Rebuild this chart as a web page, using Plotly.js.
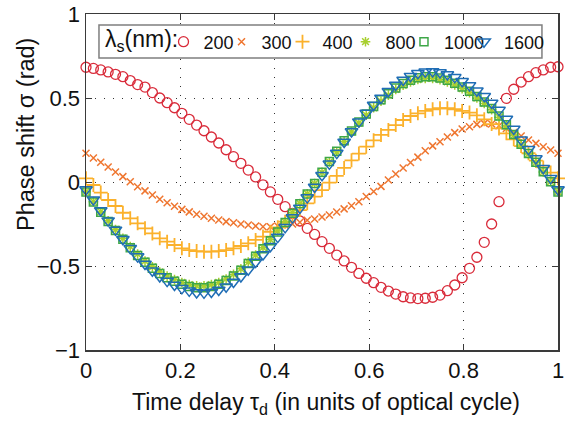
<!DOCTYPE html>
<html>
<head>
<meta charset="utf-8">
<script src="https://cdn.plot.ly/plotly-3.0.1.min.js"></script>
<style>html,body{margin:0;padding:0;background:#fff;}#chart{width:566px;height:422px;}</style>
</head>
<body>
<div id="chart"></div>
<script>
// Time delay grid: 65 samples across one optical cycle
var tau = [];
for (var k = 0; k <= 64; k++) tau.push(k / 64);

var seriesNames = ['200', '300', '400', '800', '1000', '1600'];

var phase200 = [0.683,0.676,0.667,0.655,0.641,0.627,0.604,0.580,0.565,0.532,0.500,0.472,0.442,0.409,0.373,0.339,
  0.305,0.268,0.232,0.192,0.151,0.111,0.071,0.030,-0.017,-0.059,-0.103,-0.147,-0.187,-0.232,-0.276,-0.312,
  -0.355,-0.395,-0.435,-0.470,-0.508,-0.544,-0.573,-0.599,-0.627,-0.649,-0.667,-0.683,-0.690,-0.694,-0.692,-0.686,
  -0.673,-0.647,-0.613,-0.570,-0.514,-0.448,-0.359,-0.250,-0.117,0.498,0.552,0.595,0.627,0.651,0.667,0.683,0.686];

var phase300 = [0.171,0.143,0.117,0.089,0.060,0.032,0.002,-0.028,-0.053,-0.077,-0.103,-0.124,-0.144,-0.163,-0.178,-0.192,
  -0.204,-0.216,-0.226,-0.236,-0.243,-0.250,-0.256,-0.262,-0.266,-0.266,-0.262,-0.257,-0.250,-0.240,-0.228,-0.220,
  -0.208,-0.196,-0.179,-0.160,-0.141,-0.117,-0.086,-0.056,-0.026,0.012,0.048,0.083,0.116,0.148,0.186,0.215,
  0.240,0.268,0.294,0.315,0.329,0.343,0.349,0.345,0.335,0.319,0.294,0.274,0.250,0.230,0.210,0.190,0.171];

var phase400 = [0.022,-0.018,-0.063,-0.107,-0.143,-0.183,-0.216,-0.246,-0.276,-0.306,-0.335,-0.355,-0.375,-0.395,-0.405,-0.411,
  -0.415,-0.415,-0.411,-0.405,-0.395,-0.381,-0.365,-0.345,-0.325,-0.296,-0.270,-0.236,-0.202,-0.167,-0.127,-0.087,
  -0.048,-0.004,0.036,0.084,0.129,0.169,0.210,0.248,0.280,0.310,0.339,0.369,0.393,0.409,0.423,0.433,
  0.439,0.439,0.433,0.423,0.413,0.397,0.373,0.345,0.319,0.290,0.254,0.214,0.171,0.127,0.087,0.056,0.022];

var phase800 = [-0.058,-0.117,-0.177,-0.231,-0.283,-0.335,-0.384,-0.429,-0.470,-0.505,-0.536,-0.560,-0.581,-0.598,-0.611,-0.618,
  -0.618,-0.611,-0.598,-0.577,-0.550,-0.517,-0.477,-0.435,-0.391,-0.343,-0.292,-0.237,-0.183,-0.128,-0.070,-0.009,
  0.057,0.120,0.180,0.241,0.298,0.351,0.398,0.442,0.481,0.517,0.551,0.576,0.596,0.610,0.617,0.617,
  0.609,0.596,0.578,0.556,0.531,0.500,0.468,0.430,0.386,0.335,0.278,0.220,0.167,0.115,0.060,0.002,-0.058];

var phase1000 = [-0.060,-0.119,-0.180,-0.235,-0.288,-0.341,-0.391,-0.437,-0.478,-0.514,-0.545,-0.570,-0.591,-0.609,-0.622,-0.629,
  -0.629,-0.622,-0.608,-0.587,-0.559,-0.526,-0.485,-0.442,-0.398,-0.349,-0.297,-0.241,-0.186,-0.130,-0.071,-0.009,
  0.058,0.122,0.183,0.245,0.303,0.357,0.405,0.449,0.489,0.526,0.560,0.586,0.606,0.620,0.627,0.627,
  0.619,0.606,0.588,0.566,0.540,0.509,0.476,0.437,0.393,0.341,0.283,0.224,0.170,0.117,0.061,0.002,-0.060];

var phase1600 = [-0.045,-0.105,-0.170,-0.230,-0.285,-0.341,-0.395,-0.444,-0.488,-0.528,-0.562,-0.590,-0.613,-0.633,-0.648,-0.658,
  -0.660,-0.655,-0.643,-0.623,-0.595,-0.563,-0.522,-0.476,-0.432,-0.382,-0.328,-0.270,-0.212,-0.155,-0.093,-0.030,
  0.040,0.108,0.172,0.238,0.300,0.358,0.410,0.458,0.500,0.540,0.577,0.607,0.630,0.647,0.656,0.658,
  0.652,0.640,0.623,0.600,0.575,0.543,0.510,0.470,0.428,0.375,0.315,0.252,0.195,0.140,0.082,0.022,-0.045];

var xTickVals = [0, 0.2, 0.4, 0.6, 0.8, 1];
var xTickText = ['0', '0.2', '0.4', '0.6', '0.8', '1'];
var yTickVals = [-1, -0.5, 0, 0.5, 1];
var yTickText = ['\u22121', '\u22120.5', '0', '0.5', '1'];

var allY = [phase200, phase300, phase400, phase800, phase1000, phase1600];
var styles = [
  {symbol: 'circle-open', size: 10, color: '#d92b3a', lw: 1.3},
  {symbol: 'x-thin-open', size: 7, color: '#ef7630', lw: 1.5},
  {symbol: 'cross-thin-open', size: 10, color: '#fbb12b', lw: 1.8},
  {symbol: 'asterisk-open', size: 8, color: '#a8cf2f', lw: 1.5},
  {symbol: 'square-open', size: 8, color: '#3ea748', lw: 1.5},
  {symbol: 'triangle-down-open', size: 11, color: '#1f6db5', lw: 1.5}
];
var legendIds = ['legend', 'legend2', 'legend3', 'legend4', 'legend5', 'legend6'];
var legendX = [0.1642, 0.2871, 0.4163, 0.5498, 0.6737, 0.8008];

var traces = allY.map(function (ys, i) {
  var s = styles[i];
  return {
    x: tau, y: ys, name: seriesNames[i], type: 'scatter', mode: 'markers',
    cliponaxis: false, legend: legendIds[i],
    marker: {symbol: s.symbol, size: s.size, color: s.color, line: {color: s.color, width: s.lw}}
  };
});

var font = 'Liberation Sans, Arial, Helvetica, sans-serif';
var axisCommon = {
  showline: true, linecolor: '#3a3a3a', linewidth: 1.5, mirror: 'ticks',
  ticks: 'inside', ticklen: 6, tickcolor: '#3a3a3a', tickwidth: 1,
  showgrid: true, gridcolor: '#333333', gridwidth: 1, griddash: '1px,8px',
  zeroline: false, tickfont: {family: font, size: 22, color: '#111'}
};

var layout = {
  width: 566, height: 422,
  margin: {l: 86, r: 8, t: 14, b: 72},
  paper_bgcolor: '#fff', plot_bgcolor: '#fff',
  font: {family: font, color: '#111'},
  showlegend: true,
  xaxis: Object.assign({}, axisCommon, {range: [0, 1], tickvals: xTickVals, ticktext: xTickText}),
  yaxis: Object.assign({}, axisCommon, {range: [-1, 1], tickvals: yTickVals, ticktext: yTickText}),
  shapes: [
    {type: 'rect', xref: 'paper', yref: 'paper', x0: 0.0275, x1: 0.966, y0: 0.869, y1: 0.967,
     fillcolor: '#fff', line: {color: '#7f7f7f', width: 1.5}, layer: 'above'}
  ],
  annotations: [
    {text: '\u03bb<sub>s</sub>(nm):', xref: 'paper', yref: 'paper',
     x: 0.036, y: 0.922, xanchor: 'left', yanchor: 'middle', showarrow: false,
     font: {family: font, size: 23, color: '#111'}},
    {text: 'Time delay \u03c4<sub>d</sub> (in units of optical cycle)', xref: 'paper', yref: 'paper',
     x: 0.508, y: -0.16, xanchor: 'center', yanchor: 'middle', showarrow: false,
     font: {family: font, size: 23, color: '#111'}},
    {text: 'Phase shift \u03c3 (rad)', xref: 'paper', yref: 'paper', textangle: -90,
     x: -0.127, y: 0.64, xanchor: 'center', yanchor: 'middle', showarrow: false,
     font: {family: font, size: 23.5, color: '#111'}}
  ]
};

legendIds.forEach(function (id, i) {
  layout[id] = {
    orientation: 'h', x: legendX[i], y: 0.9167, xanchor: 'left', yanchor: 'middle',
    bgcolor: 'rgba(0,0,0,0)', borderwidth: 0, itemwidth: 30,
    font: {family: font, size: 18, color: '#111'}
  };
});

Plotly.newPlot('chart', traces, layout, {displayModeBar: false, staticPlot: true});
</script>
</body>
</html>
